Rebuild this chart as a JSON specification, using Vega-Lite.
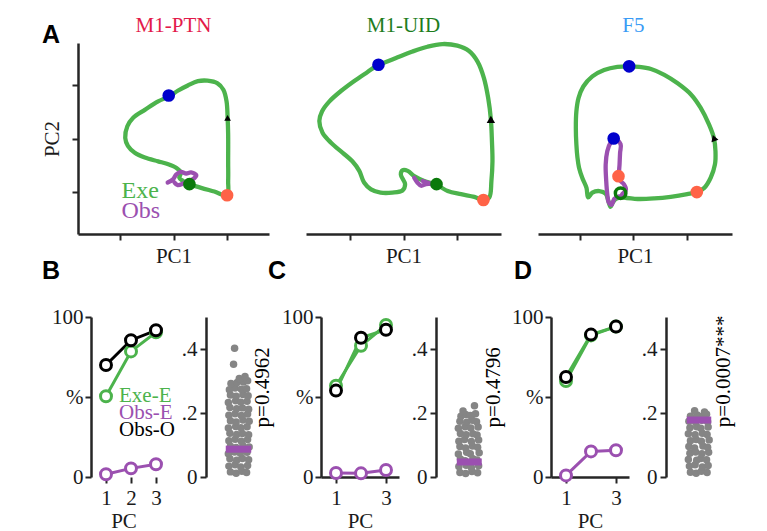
{
"$schema":"https://vega.github.io/schema/vega-lite/v6.json",
"background":"white",
"padding":{"left":41,"top":15,"right":5,"bottom":5},
"config":{
 "font":"Liberation Serif",
 "view":{"stroke":null},
 "axis":{"domainColor":"#262626","domainWidth":2.5,"tickColor":"#262626","tickWidth":2,"tickSize":6,"labelFontSize":21,"labelColor":"#1a1a1a","titleFontSize":21,"titleFontWeight":"normal","titleColor":"#1a1a1a","grid":false,"labelFont":"Liberation Serif","titleFont":"Liberation Serif"}
},
"datasets":{
 "traj":[
  {"panel":"A1","series":"Exe","i":0,"x":0.30,"y":-0.86},{"panel":"A1","series":"Exe","i":1,"x":0.52,"y":-0.93},{"panel":"A1","series":"Exe","i":2,"x":0.77,"y":-1.00},{"panel":"A1","series":"Exe","i":3,"x":1.01,"y":-1.07},{"panel":"A1","series":"Exe","i":4,"x":1.03,"y":-0.80},{"panel":"A1","series":"Exe","i":5,"x":1.03,"y":-0.43},{"panel":"A1","series":"Exe","i":6,"x":1.03,"y":0.08},{"panel":"A1","series":"Exe","i":7,"x":1.02,"y":0.39},{"panel":"A1","series":"Exe","i":8,"x":1.00,"y":0.70},{"panel":"A1","series":"Exe","i":9,"x":0.94,"y":0.92},{"panel":"A1","series":"Exe","i":10,"x":0.83,"y":1.04},{"panel":"A1","series":"Exe","i":11,"x":0.64,"y":1.09},{"panel":"A1","series":"Exe","i":12,"x":0.46,"y":1.08},{"panel":"A1","series":"Exe","i":13,"x":0.27,"y":1.00},{"panel":"A1","series":"Exe","i":14,"x":0.08,"y":0.90},{"panel":"A1","series":"Exe","i":15,"x":-0.09,"y":0.79},{"panel":"A1","series":"Exe","i":16,"x":-0.29,"y":0.70},{"panel":"A1","series":"Exe","i":17,"x":-0.54,"y":0.54},{"panel":"A1","series":"Exe","i":18,"x":-0.76,"y":0.39},{"panel":"A1","series":"Exe","i":19,"x":-0.87,"y":0.23},{"panel":"A1","series":"Exe","i":20,"x":-0.91,"y":0.01},{"panel":"A1","series":"Exe","i":21,"x":-0.86,"y":-0.14},{"panel":"A1","series":"Exe","i":22,"x":-0.73,"y":-0.27},{"panel":"A1","series":"Exe","i":23,"x":-0.54,"y":-0.36},{"panel":"A1","series":"Exe","i":24,"x":-0.29,"y":-0.43},{"panel":"A1","series":"Exe","i":25,"x":-0.11,"y":-0.48},{"panel":"A1","series":"Exe","i":26,"x":0.05,"y":-0.55},{"panel":"A1","series":"Exe","i":27,"x":0.14,"y":-0.64},{"panel":"A1","series":"Exe","i":28,"x":0.11,"y":-0.74},{"panel":"A1","series":"Exe","i":29,"x":0.18,"y":-0.80},{"panel":"A1","series":"Exe","i":30,"x":0.30,"y":-0.86},
  {"panel":"A1","series":"Obs","i":0,"x":-0.11,"y":-0.83},{"panel":"A1","series":"Obs","i":1,"x":-0.01,"y":-0.77},{"panel":"A1","series":"Obs","i":2,"x":0.05,"y":-0.68},{"panel":"A1","series":"Obs","i":3,"x":0.14,"y":-0.63},{"panel":"A1","series":"Obs","i":4,"x":0.24,"y":-0.66},{"panel":"A1","series":"Obs","i":5,"x":0.33,"y":-0.64},{"panel":"A1","series":"Obs","i":6,"x":0.43,"y":-0.69},{"panel":"A1","series":"Obs","i":7,"x":0.36,"y":-0.77},{"panel":"A1","series":"Obs","i":8,"x":0.27,"y":-0.80},{"panel":"A1","series":"Obs","i":9,"x":0.18,"y":-0.85},{"panel":"A1","series":"Obs","i":10,"x":0.08,"y":-0.88},{"panel":"A1","series":"Obs","i":11,"x":0.02,"y":-0.83},
  {"panel":"A2","series":"Exe","i":0,"x":0.62,"y":-0.86},{"panel":"A2","series":"Exe","i":1,"x":0.83,"y":-0.99},{"panel":"A2","series":"Exe","i":2,"x":1.08,"y":-1.05},{"panel":"A2","series":"Exe","i":3,"x":1.33,"y":-1.10},{"panel":"A2","series":"Exe","i":4,"x":1.50,"y":-1.16},{"panel":"A2","series":"Exe","i":5,"x":1.61,"y":-1.11},{"panel":"A2","series":"Exe","i":6,"x":1.65,"y":-0.80},{"panel":"A2","series":"Exe","i":7,"x":1.67,"y":-0.43},{"panel":"A2","series":"Exe","i":8,"x":1.66,"y":-0.05},{"panel":"A2","series":"Exe","i":9,"x":1.64,"y":0.36},{"panel":"A2","series":"Exe","i":10,"x":1.59,"y":0.76},{"panel":"A2","series":"Exe","i":11,"x":1.51,"y":1.14},{"panel":"A2","series":"Exe","i":12,"x":1.39,"y":1.45},{"panel":"A2","series":"Exe","i":13,"x":1.23,"y":1.65},{"panel":"A2","series":"Exe","i":14,"x":1.01,"y":1.75},{"panel":"A2","series":"Exe","i":15,"x":0.73,"y":1.78},{"panel":"A2","series":"Exe","i":16,"x":0.45,"y":1.73},{"panel":"A2","series":"Exe","i":17,"x":0.17,"y":1.64},{"panel":"A2","series":"Exe","i":18,"x":-0.11,"y":1.53},{"panel":"A2","series":"Exe","i":19,"x":-0.33,"y":1.44},{"panel":"A2","series":"Exe","i":20,"x":-0.47,"y":1.39},{"panel":"A2","series":"Exe","i":21,"x":-0.68,"y":1.25},{"panel":"A2","series":"Exe","i":22,"x":-0.93,"y":1.08},{"panel":"A2","series":"Exe","i":23,"x":-1.18,"y":0.89},{"panel":"A2","series":"Exe","i":24,"x":-1.39,"y":0.70},{"panel":"A2","series":"Exe","i":25,"x":-1.53,"y":0.51},{"panel":"A2","series":"Exe","i":26,"x":-1.58,"y":0.33},{"panel":"A2","series":"Exe","i":27,"x":-1.52,"y":0.11},{"panel":"A2","series":"Exe","i":28,"x":-1.36,"y":-0.08},{"panel":"A2","series":"Exe","i":29,"x":-1.14,"y":-0.27},{"panel":"A2","series":"Exe","i":30,"x":-0.96,"y":-0.43},{"panel":"A2","series":"Exe","i":31,"x":-0.83,"y":-0.61},{"panel":"A2","series":"Exe","i":32,"x":-0.74,"y":-0.83},{"panel":"A2","series":"Exe","i":33,"x":-0.61,"y":-0.96},{"panel":"A2","series":"Exe","i":34,"x":-0.43,"y":-1.02},{"panel":"A2","series":"Exe","i":35,"x":-0.21,"y":-1.02},{"panel":"A2","series":"Exe","i":36,"x":-0.02,"y":-0.98},{"panel":"A2","series":"Exe","i":37,"x":0.03,"y":-0.86},{"panel":"A2","series":"Exe","i":38,"x":-0.05,"y":-0.68},{"panel":"A2","series":"Exe","i":39,"x":-0.02,"y":-0.60},{"panel":"A2","series":"Exe","i":40,"x":0.08,"y":-0.61},{"panel":"A2","series":"Exe","i":41,"x":0.20,"y":-0.71},{"panel":"A2","series":"Exe","i":42,"x":0.39,"y":-0.80},{"panel":"A2","series":"Exe","i":43,"x":0.62,"y":-0.86},
  {"panel":"A2","series":"Obs","i":0,"x":0.20,"y":-0.74},{"panel":"A2","series":"Obs","i":1,"x":0.26,"y":-0.83},{"panel":"A2","series":"Obs","i":2,"x":0.33,"y":-0.89},{"panel":"A2","series":"Obs","i":3,"x":0.42,"y":-0.86},{"panel":"A2","series":"Obs","i":4,"x":0.51,"y":-0.85},{"panel":"A2","series":"Obs","i":5,"x":0.58,"y":-0.88},{"panel":"A2","series":"Obs","i":6,"x":0.45,"y":-0.83},{"panel":"A2","series":"Obs","i":7,"x":0.36,"y":-0.80},
  {"panel":"A3","series":"Exe","i":0,"x":-0.21,"y":-1.11},{"panel":"A3","series":"Exe","i":1,"x":0.08,"y":-1.14},{"panel":"A3","series":"Exe","i":2,"x":0.39,"y":-1.13},{"panel":"A3","series":"Exe","i":3,"x":0.70,"y":-1.10},{"panel":"A3","series":"Exe","i":4,"x":1.01,"y":-1.05},{"panel":"A3","series":"Exe","i":5,"x":1.19,"y":-1.01},{"panel":"A3","series":"Exe","i":6,"x":1.33,"y":-0.93},{"panel":"A3","series":"Exe","i":7,"x":1.45,"y":-0.74},{"panel":"A3","series":"Exe","i":8,"x":1.53,"y":-0.49},{"panel":"A3","series":"Exe","i":9,"x":1.54,"y":-0.24},{"panel":"A3","series":"Exe","i":10,"x":1.51,"y":0.01},{"panel":"A3","series":"Exe","i":11,"x":1.42,"y":0.26},{"panel":"A3","series":"Exe","i":12,"x":1.26,"y":0.58},{"panel":"A3","series":"Exe","i":13,"x":1.08,"y":0.83},{"panel":"A3","series":"Exe","i":14,"x":0.83,"y":1.04},{"panel":"A3","series":"Exe","i":15,"x":0.58,"y":1.20},{"panel":"A3","series":"Exe","i":16,"x":0.33,"y":1.31},{"panel":"A3","series":"Exe","i":17,"x":0.11,"y":1.35},{"panel":"A3","series":"Exe","i":18,"x":-0.08,"y":1.36},{"panel":"A3","series":"Exe","i":19,"x":-0.30,"y":1.35},{"panel":"A3","series":"Exe","i":20,"x":-0.55,"y":1.29},{"panel":"A3","series":"Exe","i":21,"x":-0.77,"y":1.17},{"panel":"A3","series":"Exe","i":22,"x":-0.94,"y":0.98},{"panel":"A3","series":"Exe","i":23,"x":-1.03,"y":0.76},{"panel":"A3","series":"Exe","i":24,"x":-1.07,"y":0.51},{"panel":"A3","series":"Exe","i":25,"x":-1.08,"y":0.20},{"panel":"A3","series":"Exe","i":26,"x":-1.07,"y":-0.11},{"panel":"A3","series":"Exe","i":27,"x":-1.05,"y":-0.36},{"panel":"A3","series":"Exe","i":28,"x":-1.02,"y":-0.55},{"panel":"A3","series":"Exe","i":29,"x":-0.96,"y":-0.74},{"panel":"A3","series":"Exe","i":30,"x":-0.88,"y":-0.93},{"panel":"A3","series":"Exe","i":31,"x":-0.85,"y":-1.11},{"panel":"A3","series":"Exe","i":32,"x":-0.77,"y":-1.02},{"panel":"A3","series":"Exe","i":33,"x":-0.64,"y":-0.99},{"panel":"A3","series":"Exe","i":34,"x":-0.52,"y":-1.04},{"panel":"A3","series":"Exe","i":35,"x":-0.47,"y":-1.18},{"panel":"A3","series":"Exe","i":36,"x":-0.43,"y":-1.29},{"panel":"A3","series":"Exe","i":37,"x":-0.39,"y":-1.21},{"panel":"A3","series":"Exe","i":38,"x":-0.33,"y":-1.14},{"panel":"A3","series":"Exe","i":39,"x":-0.21,"y":-1.11},
  {"panel":"A3","series":"Obs","i":0,"x":-0.21,"y":-1.05},{"panel":"A3","series":"Obs","i":1,"x":-0.14,"y":-0.96},{"panel":"A3","series":"Obs","i":2,"x":-0.18,"y":-0.86},{"panel":"A3","series":"Obs","i":3,"x":-0.24,"y":-0.80},{"panel":"A3","series":"Obs","i":4,"x":-0.27,"y":-0.69},{"panel":"A3","series":"Obs","i":5,"x":-0.26,"y":-0.49},{"panel":"A3","series":"Obs","i":6,"x":-0.25,"y":-0.27},{"panel":"A3","series":"Obs","i":7,"x":-0.24,"y":-0.11},{"panel":"A3","series":"Obs","i":8,"x":-0.35,"y":0.0},{"panel":"A3","series":"Obs","i":9,"x":-0.43,"y":-0.08},{"panel":"A3","series":"Obs","i":10,"x":-0.49,"y":-0.24},{"panel":"A3","series":"Obs","i":11,"x":-0.52,"y":-0.49},{"panel":"A3","series":"Obs","i":12,"x":-0.51,"y":-0.80},{"panel":"A3","series":"Obs","i":13,"x":-0.49,"y":-1.05},{"panel":"A3","series":"Obs","i":14,"x":-0.46,"y":-1.21},{"panel":"A3","series":"Obs","i":15,"x":-0.41,"y":-1.25},{"panel":"A3","series":"Obs","i":16,"x":-0.36,"y":-1.14},{"panel":"A3","series":"Obs","i":17,"x":-0.30,"y":-1.10},{"panel":"A3","series":"Obs","i":18,"x":-0.21,"y":-1.08}
 ],
 "events":[
  {"panel":"A1","series":"Exe","ev":"start","x":0.30,"y":-0.86},{"panel":"A1","series":"Exe","ev":"go","x":1.01,"y":-1.07},{"panel":"A1","series":"Exe","ev":"contact","x":-0.09,"y":0.81},
  {"panel":"A2","series":"Exe","ev":"start","x":0.62,"y":-0.86},{"panel":"A2","series":"Exe","ev":"go","x":1.50,"y":-1.16},{"panel":"A2","series":"Exe","ev":"contact","x":-0.47,"y":1.39},
  {"panel":"A3","series":"Exe","ev":"go","x":1.19,"y":-1.01},{"panel":"A3","series":"Exe","ev":"contact","x":-0.08,"y":1.36},
  {"panel":"A3","series":"Obs","ev":"go","x":-0.28,"y":-0.71},{"panel":"A3","series":"Obs","ev":"contact","x":-0.37,"y":0.0},{"panel":"A3","series":"Obs","ev":"start","x":-0.24,"y":-1.03}
 ],
 "arrows":[
  {"panel":"A1","x":1.02,"y":0.39},{"panel":"A2","x":1.64,"y":0.36},{"panel":"A3","x":1.51,"y":0.01}
 ],
 "titles":[
  {"panel":"A1","label":"M1-PTN","x":0,"y":2.12},{"panel":"A2","label":"M1-UID","x":0,"y":2.12},{"panel":"A3","label":"F5","x":0,"y":2.12}
 ],
 "notes":[
  {"panel":"A1","series":"Exe","label":"Exe","x":-0.98,"y":-0.99},{"panel":"A1","series":"Obs","label":"Obs","x":-0.98,"y":-1.36},
  {"panel":"B","series":"Exe-E","label":"Exe-E","x":1.52,"y":50.6},{"panel":"B","series":"Obs-E","label":"Obs-E","x":1.52,"y":40},{"panel":"B","series":"Obs-O","label":"Obs-O","x":1.52,"y":29.4}
 ],
 "letters":[
  {"panel":"A1","label":"A","x":-2.31,"y":1.96},{"panel":"B","label":"B","x":-1.2,"y":128.75},{"panel":"C","label":"C","x":-1.36,"y":128.75},{"panel":"D","label":"D","x":-0.72,"y":128.75}
 ],
 "pcs":[
  {"panel":"B","series":"Exe-E","pc":1,"v":50.5},{"panel":"B","series":"Exe-E","pc":2,"v":78.5},{"panel":"B","series":"Exe-E","pc":3,"v":90.5},
  {"panel":"B","series":"Obs-E","pc":1,"v":1.7},{"panel":"B","series":"Obs-E","pc":2,"v":5.4},{"panel":"B","series":"Obs-E","pc":3,"v":8},
  {"panel":"B","series":"Obs-O","pc":1,"v":70},{"panel":"B","series":"Obs-O","pc":2,"v":85.5},{"panel":"B","series":"Obs-O","pc":3,"v":91.7},
  {"panel":"C","series":"Exe-E","pc":1,"v":57},{"panel":"C","series":"Exe-E","pc":2,"v":82},{"panel":"C","series":"Exe-E","pc":3,"v":95},
  {"panel":"C","series":"Obs-E","pc":1,"v":2.5},{"panel":"C","series":"Obs-E","pc":2,"v":2.3},{"panel":"C","series":"Obs-E","pc":3,"v":4.4},
  {"panel":"C","series":"Obs-O","pc":1,"v":54},{"panel":"C","series":"Obs-O","pc":2,"v":87},{"panel":"C","series":"Obs-O","pc":3,"v":92},
  {"panel":"D","series":"Exe-E","pc":1,"v":60},{"panel":"D","series":"Exe-E","pc":2,"v":88.5},{"panel":"D","series":"Exe-E","pc":3,"v":94},
  {"panel":"D","series":"Obs-E","pc":1,"v":1},{"panel":"D","series":"Obs-E","pc":2,"v":16},{"panel":"D","series":"Obs-E","pc":3,"v":16.7},
  {"panel":"D","series":"Obs-O","pc":1,"v":62.5},{"panel":"D","series":"Obs-O","pc":2,"v":89},{"panel":"D","series":"Obs-O","pc":3,"v":94}
 ],
 "nulls":[
  {"panel":"B","x":0.47,"y":0.016},{"panel":"B","x":0.58,"y":0.012},{"panel":"B","x":0.69,"y":0.018},{"panel":"B","x":0.78,"y":0.014},
  {"panel":"B","x":0.44,"y":0.034},{"panel":"B","x":0.56,"y":0.038},{"panel":"B","x":0.67,"y":0.031},{"panel":"B","x":0.80,"y":0.036},
  {"panel":"B","x":0.46,"y":0.057},{"panel":"B","x":0.59,"y":0.052},{"panel":"B","x":0.70,"y":0.058},{"panel":"B","x":0.82,"y":0.054},
  {"panel":"B","x":0.43,"y":0.073},{"panel":"B","x":0.55,"y":0.078},{"panel":"B","x":0.66,"y":0.074},{"panel":"B","x":0.79,"y":0.077},
  {"panel":"B","x":0.47,"y":0.096},{"panel":"B","x":0.58,"y":0.092},{"panel":"B","x":0.71,"y":0.098},{"panel":"B","x":0.83,"y":0.094},
  {"panel":"B","x":0.44,"y":0.113},{"panel":"B","x":0.56,"y":0.118},{"panel":"B","x":0.68,"y":0.112},{"panel":"B","x":0.80,"y":0.117},
  {"panel":"B","x":0.46,"y":0.137},{"panel":"B","x":0.59,"y":0.133},{"panel":"B","x":0.70,"y":0.136},{"panel":"B","x":0.82,"y":0.132},
  {"panel":"B","x":0.43,"y":0.153},{"panel":"B","x":0.57,"y":0.158},{"panel":"B","x":0.67,"y":0.154},{"panel":"B","x":0.79,"y":0.157},
  {"panel":"B","x":0.47,"y":0.176},{"panel":"B","x":0.58,"y":0.172},{"panel":"B","x":0.71,"y":0.178},{"panel":"B","x":0.83,"y":0.174},
  {"panel":"B","x":0.44,"y":0.193},{"panel":"B","x":0.56,"y":0.198},{"panel":"B","x":0.68,"y":0.192},{"panel":"B","x":0.80,"y":0.197},
  {"panel":"B","x":0.46,"y":0.217},{"panel":"B","x":0.59,"y":0.213},{"panel":"B","x":0.70,"y":0.216},{"panel":"B","x":0.82,"y":0.212},
  {"panel":"B","x":0.43,"y":0.233},{"panel":"B","x":0.57,"y":0.238},{"panel":"B","x":0.67,"y":0.234},{"panel":"B","x":0.79,"y":0.237},
  {"panel":"B","x":0.47,"y":0.256},{"panel":"B","x":0.58,"y":0.252},{"panel":"B","x":0.71,"y":0.258},{"panel":"B","x":0.81,"y":0.254},
  {"panel":"B","x":0.45,"y":0.273},{"panel":"B","x":0.56,"y":0.278},{"panel":"B","x":0.68,"y":0.274},{"panel":"B","x":0.78,"y":0.276},
  {"panel":"B","x":0.48,"y":0.292},{"panel":"B","x":0.60,"y":0.295},{"panel":"B","x":0.72,"y":0.297},{"panel":"B","x":0.80,"y":0.301},
  {"panel":"B","x":0.64,"y":0.308},{"panel":"B","x":0.75,"y":0.314},{"panel":"B","x":0.53,"y":0.352},{"panel":"B","x":0.55,"y":0.402},
  {"panel":"C","x":0.46,"y":0.014},{"panel":"C","x":0.57,"y":0.011},{"panel":"C","x":0.69,"y":0.017},{"panel":"C","x":0.80,"y":0.013},
  {"panel":"C","x":0.44,"y":0.033},{"panel":"C","x":0.58,"y":0.037},{"panel":"C","x":0.68,"y":0.030},{"panel":"C","x":0.82,"y":0.035},
  {"panel":"C","x":0.47,"y":0.056},{"panel":"C","x":0.56,"y":0.051},{"panel":"C","x":0.71,"y":0.057},{"panel":"C","x":0.79,"y":0.053},
  {"panel":"C","x":0.43,"y":0.072},{"panel":"C","x":0.59,"y":0.077},{"panel":"C","x":0.66,"y":0.073},{"panel":"C","x":0.83,"y":0.076},
  {"panel":"C","x":0.46,"y":0.095},{"panel":"C","x":0.57,"y":0.091},{"panel":"C","x":0.70,"y":0.097},{"panel":"C","x":0.80,"y":0.093},
  {"panel":"C","x":0.44,"y":0.112},{"panel":"C","x":0.55,"y":0.117},{"panel":"C","x":0.68,"y":0.111},{"panel":"C","x":0.82,"y":0.116},
  {"panel":"C","x":0.47,"y":0.136},{"panel":"C","x":0.58,"y":0.132},{"panel":"C","x":0.71,"y":0.135},{"panel":"C","x":0.79,"y":0.131},
  {"panel":"C","x":0.43,"y":0.152},{"panel":"C","x":0.56,"y":0.157},{"panel":"C","x":0.67,"y":0.153},{"panel":"C","x":0.81,"y":0.156},
  {"panel":"C","x":0.46,"y":0.174},{"panel":"C","x":0.59,"y":0.171},{"panel":"C","x":0.70,"y":0.177},{"panel":"C","x":0.78,"y":0.173},
  {"panel":"C","x":0.48,"y":0.190},{"panel":"C","x":0.57,"y":0.195},{"panel":"C","x":0.66,"y":0.192},{"panel":"C","x":0.76,"y":0.198},
  {"panel":"C","x":0.52,"y":0.206},{"panel":"C","x":0.74,"y":0.223},
  {"panel":"D","x":0.47,"y":0.015},{"panel":"D","x":0.58,"y":0.012},{"panel":"D","x":0.68,"y":0.018},{"panel":"D","x":0.79,"y":0.014},
  {"panel":"D","x":0.45,"y":0.034},{"panel":"D","x":0.56,"y":0.038},{"panel":"D","x":0.70,"y":0.031},{"panel":"D","x":0.81,"y":0.036},
  {"panel":"D","x":0.43,"y":0.055},{"panel":"D","x":0.59,"y":0.052},{"panel":"D","x":0.67,"y":0.058},{"panel":"D","x":0.78,"y":0.054},
  {"panel":"D","x":0.46,"y":0.074},{"panel":"D","x":0.57,"y":0.078},{"panel":"D","x":0.69,"y":0.073},{"panel":"D","x":0.82,"y":0.077},
  {"panel":"D","x":0.44,"y":0.095},{"panel":"D","x":0.55,"y":0.091},{"panel":"D","x":0.71,"y":0.097},{"panel":"D","x":0.80,"y":0.093},
  {"panel":"D","x":0.47,"y":0.113},{"panel":"D","x":0.58,"y":0.117},{"panel":"D","x":0.68,"y":0.112},{"panel":"D","x":0.83,"y":0.116},
  {"panel":"D","x":0.43,"y":0.135},{"panel":"D","x":0.56,"y":0.132},{"panel":"D","x":0.70,"y":0.137},{"panel":"D","x":0.79,"y":0.133},
  {"panel":"D","x":0.46,"y":0.154},{"panel":"D","x":0.59,"y":0.157},{"panel":"D","x":0.67,"y":0.152},{"panel":"D","x":0.81,"y":0.156},
  {"panel":"D","x":0.44,"y":0.174},{"panel":"D","x":0.57,"y":0.171},{"panel":"D","x":0.69,"y":0.177},{"panel":"D","x":0.80,"y":0.173},
  {"panel":"D","x":0.47,"y":0.190},{"panel":"D","x":0.60,"y":0.194},{"panel":"D","x":0.71,"y":0.191},{"panel":"D","x":0.78,"y":0.196},
  {"panel":"D","x":0.55,"y":0.207},{"panel":"D","x":0.74,"y":0.203}
 ],
 "meds":[
  {"panel":"B","x1":0.38,"x2":0.87,"y":0.087},{"panel":"C","x1":0.40,"x2":0.88,"y":0.047},{"panel":"D","x1":0.40,"x2":0.87,"y":0.178}
 ],
 "pvals":[
  {"panel":"B","label":"p=0.4962","x":1.10,"y":0.28},{"panel":"C","label":"p=0.4796","x":1.12,"y":0.28},{"panel":"D","label":"p=0.0007***","x":1.12,"y":0.33}
 ]
},
"vconcat":[
 {"hconcat":[
  {"width":191,"height":191,
   "resolve":{"scale":{"color":"independent"}},
   "layer":[
    {"data":{"name":"traj"},"transform":[{"filter":"datum.panel==='A1'"}],
     "mark":{"type":"line","strokeWidth":4.3,"strokeCap":"round","strokeJoin":"round","interpolate":"catmull-rom"},
     "encoding":{
      "x":{"field":"x","type":"quantitative","scale":{"domain":[-1.8,1.8],"nice":false},"axis":{"values":[-1,0,1],"labels":false,"title":"PC1","titlePadding":4}},
      "y":{"field":"y","type":"quantitative","scale":{"domain":[-1.8,1.8],"nice":false},"axis":{"values":[-1,0,1],"labels":false,"title":"PC2","titlePadding":9}},
      "color":{"field":"series","type":"nominal","scale":{"domain":["Exe","Obs"],"range":["#4cb34c","#9b50b0"]},"legend":null},
      "order":{"field":"i","type":"quantitative"}}},
    {"data":{"name":"events"},"transform":[{"filter":"datum.panel==='A1'"}],
     "mark":{"type":"circle","size":160,"opacity":1},
     "encoding":{"x":{"field":"x","type":"quantitative"},"y":{"field":"y","type":"quantitative"},
      "fill":{"field":"ev","type":"nominal","scale":{"domain":["start","go","contact"],"range":["#0b7a0b","#ff6347","#0000cc"]},"legend":null}}},
    {"data":{"name":"arrows"},"transform":[{"filter":"datum.panel==='A1'"}],
     "mark":{"type":"point","shape":"triangle-up","filled":true,"color":"#000000","size":45,"opacity":1},
     "encoding":{"x":{"field":"x","type":"quantitative"},"y":{"field":"y","type":"quantitative"}}},
    {"data":{"name":"notes"},"transform":[{"filter":"datum.panel==='A1'"}],
     "mark":{"type":"text","align":"left","baseline":"middle","fontSize":24},
     "encoding":{"x":{"field":"x","type":"quantitative"},"y":{"field":"y","type":"quantitative"},"text":{"field":"label"},
      "color":{"field":"series","type":"nominal","scale":{"domain":["Exe","Obs"],"range":["#4cb34c","#9b50b0"]},"legend":null}}},
    {"data":{"name":"titles"},"transform":[{"filter":"datum.panel==='A1'"}],
     "mark":{"type":"text","align":"center","baseline":"middle","fontSize":21,"color":"#e31a4a"},
     "encoding":{"x":{"field":"x","type":"quantitative"},"y":{"field":"y","type":"quantitative"},"text":{"field":"label"}}},
    {"data":{"name":"letters"},"transform":[{"filter":"datum.panel==='A1'"}],
     "mark":{"type":"text","font":"Liberation Sans","fontWeight":"bold","fontSize":25,"color":"#000000","align":"center","baseline":"middle"},
     "encoding":{"x":{"field":"x","type":"quantitative"},"y":{"field":"y","type":"quantitative"},"text":{"field":"label"}}}
   ]},
  {"width":195,"height":191,
   "layer":[
    {"data":{"name":"traj"},"transform":[{"filter":"datum.panel==='A2'"}],
     "mark":{"type":"line","strokeWidth":4.3,"strokeCap":"round","strokeJoin":"round","interpolate":"catmull-rom"},
     "encoding":{
      "x":{"field":"x","type":"quantitative","scale":{"domain":[-1.83,1.83],"nice":false},"axis":{"values":[-1,0,1],"labels":false,"title":"PC1","titlePadding":4}},
      "y":{"field":"y","type":"quantitative","scale":{"domain":[-1.8,1.8],"nice":false},"axis":null},
      "color":{"field":"series","type":"nominal","scale":{"domain":["Exe","Obs"],"range":["#4cb34c","#9b50b0"]},"legend":null},
      "order":{"field":"i","type":"quantitative"}}},
    {"data":{"name":"events"},"transform":[{"filter":"datum.panel==='A2'"}],
     "mark":{"type":"circle","size":160,"opacity":1},
     "encoding":{"x":{"field":"x","type":"quantitative"},"y":{"field":"y","type":"quantitative"},
      "fill":{"field":"ev","type":"nominal","scale":{"domain":["start","go","contact"],"range":["#0b7a0b","#ff6347","#0000cc"]},"legend":null}}},
    {"data":{"name":"arrows"},"transform":[{"filter":"datum.panel==='A2'"}],
     "mark":{"type":"point","shape":"triangle-up","filled":true,"color":"#000000","size":70,"opacity":1},
     "encoding":{"x":{"field":"x","type":"quantitative"},"y":{"field":"y","type":"quantitative"}}},
    {"data":{"name":"titles"},"transform":[{"filter":"datum.panel==='A2'"}],
     "mark":{"type":"text","align":"center","baseline":"middle","fontSize":21,"color":"#1e7d1e"},
     "encoding":{"x":{"field":"x","type":"quantitative"},"y":{"field":"y","type":"quantitative"},"text":{"field":"label"}}}
   ]},
  {"width":194,"height":191,
   "layer":[
    {"data":{"name":"traj"},"transform":[{"filter":"datum.panel==='A3'"}],
     "mark":{"type":"line","strokeWidth":4.3,"strokeCap":"round","strokeJoin":"round","interpolate":"catmull-rom"},
     "encoding":{
      "x":{"field":"x","type":"quantitative","scale":{"domain":[-1.79,1.85],"nice":false},"axis":{"values":[-1,0,1],"labels":false,"title":"PC1","titlePadding":4}},
      "y":{"field":"y","type":"quantitative","scale":{"domain":[-1.8,1.8],"nice":false},"axis":null},
      "color":{"field":"series","type":"nominal","scale":{"domain":["Exe","Obs"],"range":["#4cb34c","#9b50b0"]},"legend":null},
      "order":{"field":"i","type":"quantitative"}}},
    {"data":{"name":"events"},"transform":[{"filter":"datum.panel==='A3' && !(datum.series==='Obs' && datum.ev==='start')"}],
     "mark":{"type":"circle","size":160,"opacity":1},
     "encoding":{"x":{"field":"x","type":"quantitative"},"y":{"field":"y","type":"quantitative"},
      "fill":{"field":"ev","type":"nominal","scale":{"domain":["start","go","contact"],"range":["#0b7a0b","#ff6347","#0000cc"]},"legend":null}}},
    {"data":{"name":"events"},"transform":[{"filter":"datum.panel==='A3' && datum.series==='Obs' && datum.ev==='start'"}],
     "mark":{"type":"point","shape":"circle","filled":false,"color":"#0b7a0b","strokeWidth":3.5,"size":110,"opacity":1},
     "encoding":{"x":{"field":"x","type":"quantitative"},"y":{"field":"y","type":"quantitative"}}},
    {"data":{"name":"arrows"},"transform":[{"filter":"datum.panel==='A3'"}],
     "mark":{"type":"point","shape":"triangle-up","filled":true,"color":"#000000","size":55,"opacity":1,"angle":340},
     "encoding":{"x":{"field":"x","type":"quantitative"},"y":{"field":"y","type":"quantitative"}}},
    {"data":{"name":"titles"},"transform":[{"filter":"datum.panel==='A3'"}],
     "mark":{"type":"text","align":"center","baseline":"middle","fontSize":21,"color":"#3a9bf5"},
     "encoding":{"x":{"field":"x","type":"quantitative"},"y":{"field":"y","type":"quantitative"},"text":{"field":"label"}}}
   ]}
 ],"spacing":37,"bounds":"flush"},
 {"hconcat":[
   {"width":91,"height":160,
    "resolve":{"scale":{"color":"independent"}},
    "layer":[
     {"data":{"name":"pcs"},"transform":[{"filter":"datum.panel==='B'"}],
      "mark":{"type":"line","strokeWidth":3},
      "encoding":{
       "x":{"field":"pc","type":"quantitative","scale":{"domain":[-0.12,3.52],"nice":false,"zero":false},"axis":{"values":[1,2,3],"title":"PC","labelPadding":4,"titlePadding":2,"domain":false}},
       "y":{"field":"v","type":"quantitative","scale":{"domain":[0,100],"nice":false},"axis":{"values":[0,25,50,75,100],"title":null,"offset":-13,"labelPadding":2,"labelExpr":"datum.value==100?'100':datum.value==50?'%':datum.value==0?'0':''"}},
       "color":{"field":"series","type":"nominal","scale":{"domain":["Exe-E","Obs-E","Obs-O"],"range":["#4cb34c","#9b50b0","#000000"]},"legend":null}}},
     {"mark":{"type":"rule","strokeWidth":2.5,"color":"#262626"},
      "encoding":{"x":{"datum":0.4,"type":"quantitative"},"x2":{"datum":3.52},"y":{"datum":0,"type":"quantitative"}}},
     {"data":{"name":"pcs"},"transform":[{"filter":"datum.panel==='B'"}],
      "mark":{"type":"point","shape":"circle","fill":"white","size":120,"strokeWidth":3,"opacity":1,"fillOpacity":1},
      "encoding":{"x":{"field":"pc","type":"quantitative"},"y":{"field":"v","type":"quantitative"},
       "stroke":{"field":"series","type":"nominal","scale":{"domain":["Exe-E","Obs-E","Obs-O"],"range":["#4cb34c","#9b50b0","#000000"]},"legend":null}}},
     {"data":{"name":"notes"},"transform":[{"filter":"datum.panel==='B'"}],
      "mark":{"type":"text","align":"left","baseline":"middle","fontSize":21},
      "encoding":{"x":{"field":"x","type":"quantitative"},"y":{"field":"y","type":"quantitative"},"text":{"field":"label"},
       "color":{"field":"series","type":"nominal","scale":{"domain":["Exe-E","Obs-E","Obs-O"],"range":["#4cb34c","#9b50b0","#000000"]},"legend":null}}},
     {"data":{"name":"letters"},"transform":[{"filter":"datum.panel==='B'"}],
      "mark":{"type":"text","font":"Liberation Sans","fontWeight":"bold","fontSize":25,"color":"#000000","align":"center","baseline":"middle"},
      "encoding":{"x":{"field":"x","type":"quantitative"},"y":{"field":"y","type":"quantitative"},"text":{"field":"label"}}}
    ]},
   {"width":78,"height":160,
    "layer":[
     {"data":{"name":"nulls"},"transform":[{"filter":"datum.panel==='B'"}],
      "mark":{"type":"circle","size":56,"color":"#858585","opacity":1},
      "encoding":{"x":{"field":"x","type":"quantitative","scale":{"domain":[0,1.5],"nice":false,"zero":false},"axis":null},
       "y":{"field":"y","type":"quantitative","scale":{"domain":[0,0.5],"nice":false},"axis":{"values":[0,0.1,0.2,0.3,0.4,0.5],"title":null,"labelPadding":3,"labelExpr":"datum.value==0?'0':abs(datum.value-0.2)<0.001?'.2':abs(datum.value-0.4)<0.001?'.4':''"}}}},
     {"data":{"name":"meds"},"transform":[{"filter":"datum.panel==='B'"}],
      "mark":{"type":"rule","strokeWidth":7,"color":"#9b50b0","strokeCap":"butt"},
      "encoding":{"x":{"field":"x1","type":"quantitative"},"x2":{"field":"x2"},"y":{"field":"y","type":"quantitative"}}},
     {"data":{"name":"pvals"},"transform":[{"filter":"datum.panel==='B'"}],
      "mark":{"type":"text","angle":270,"fontSize":21,"align":"center","baseline":"middle","color":"#000000"},
      "encoding":{"x":{"field":"x","type":"quantitative"},"y":{"field":"y","type":"quantitative"},"text":{"field":"label"}}}
    ]},
   {"width":78,"height":160,
    "layer":[
     {"data":{"name":"pcs"},"transform":[{"filter":"datum.panel==='C'"}],
      "mark":{"type":"line","strokeWidth":3},
      "encoding":{
       "x":{"field":"pc","type":"quantitative","scale":{"domain":[0.4,3.52],"nice":false,"zero":false},"axis":{"values":[1,2,3],"title":"PC","labelPadding":4,"titlePadding":2}},
       "y":{"field":"v","type":"quantitative","scale":{"domain":[0,100],"nice":false},"axis":{"values":[0,25,50,75,100],"title":null,"labelPadding":2,"labelExpr":"datum.value==100?'100':datum.value==50?'%':datum.value==0?'0':''"}},
       "color":{"field":"series","type":"nominal","scale":{"domain":["Exe-E","Obs-E","Obs-O"],"range":["#4cb34c","#9b50b0","#000000"]},"legend":null}}},
     {"data":{"name":"pcs"},"transform":[{"filter":"datum.panel==='C'"}],
      "mark":{"type":"point","shape":"circle","fill":"white","size":120,"strokeWidth":3,"opacity":1,"fillOpacity":1},
      "encoding":{"x":{"field":"pc","type":"quantitative"},"y":{"field":"v","type":"quantitative"},
       "stroke":{"field":"series","type":"nominal","scale":{"domain":["Exe-E","Obs-E","Obs-O"],"range":["#4cb34c","#9b50b0","#000000"]},"legend":null}}},
     {"data":{"name":"letters"},"transform":[{"filter":"datum.panel==='C'"}],
      "mark":{"type":"text","font":"Liberation Sans","fontWeight":"bold","fontSize":25,"color":"#000000","align":"center","baseline":"middle"},
      "encoding":{"x":{"field":"x","type":"quantitative"},"y":{"field":"y","type":"quantitative"},"text":{"field":"label"}}}
    ]},
   {"width":78,"height":160,
    "layer":[
     {"data":{"name":"nulls"},"transform":[{"filter":"datum.panel==='C'"}],
      "mark":{"type":"circle","size":56,"color":"#858585","opacity":1},
      "encoding":{"x":{"field":"x","type":"quantitative","scale":{"domain":[0,1.5],"nice":false,"zero":false},"axis":null},
       "y":{"field":"y","type":"quantitative","scale":{"domain":[0,0.5],"nice":false},"axis":{"values":[0,0.1,0.2,0.3,0.4,0.5],"title":null,"labelPadding":3,"labelExpr":"datum.value==0?'0':abs(datum.value-0.2)<0.001?'.2':abs(datum.value-0.4)<0.001?'.4':''"}}}},
     {"data":{"name":"meds"},"transform":[{"filter":"datum.panel==='C'"}],
      "mark":{"type":"rule","strokeWidth":7,"color":"#9b50b0","strokeCap":"butt"},
      "encoding":{"x":{"field":"x1","type":"quantitative"},"x2":{"field":"x2"},"y":{"field":"y","type":"quantitative"}}},
     {"data":{"name":"pvals"},"transform":[{"filter":"datum.panel==='C'"}],
      "mark":{"type":"text","angle":270,"fontSize":21,"align":"center","baseline":"middle","color":"#000000"},
      "encoding":{"x":{"field":"x","type":"quantitative"},"y":{"field":"y","type":"quantitative"},"text":{"field":"label"}}}
    ]},
   {"width":78,"height":160,
    "layer":[
     {"data":{"name":"pcs"},"transform":[{"filter":"datum.panel==='D'"}],
      "mark":{"type":"line","strokeWidth":3},
      "encoding":{
       "x":{"field":"pc","type":"quantitative","scale":{"domain":[0.4,3.52],"nice":false,"zero":false},"axis":{"values":[1,2,3],"title":"PC","labelPadding":4,"titlePadding":2}},
       "y":{"field":"v","type":"quantitative","scale":{"domain":[0,100],"nice":false},"axis":{"values":[0,25,50,75,100],"title":null,"labelPadding":2,"labelExpr":"datum.value==100?'100':datum.value==50?'%':datum.value==0?'0':''"}},
       "color":{"field":"series","type":"nominal","scale":{"domain":["Exe-E","Obs-E","Obs-O"],"range":["#4cb34c","#9b50b0","#000000"]},"legend":null}}},
     {"data":{"name":"pcs"},"transform":[{"filter":"datum.panel==='D'"}],
      "mark":{"type":"point","shape":"circle","fill":"white","size":120,"strokeWidth":3,"opacity":1,"fillOpacity":1},
      "encoding":{"x":{"field":"pc","type":"quantitative"},"y":{"field":"v","type":"quantitative"},
       "stroke":{"field":"series","type":"nominal","scale":{"domain":["Exe-E","Obs-E","Obs-O"],"range":["#4cb34c","#9b50b0","#000000"]},"legend":null}}},
     {"data":{"name":"letters"},"transform":[{"filter":"datum.panel==='D'"}],
      "mark":{"type":"text","font":"Liberation Sans","fontWeight":"bold","fontSize":25,"color":"#000000","align":"center","baseline":"middle"},
      "encoding":{"x":{"field":"x","type":"quantitative"},"y":{"field":"y","type":"quantitative"},"text":{"field":"label"}}}
    ]},
   {"width":78,"height":160,
    "layer":[
     {"data":{"name":"nulls"},"transform":[{"filter":"datum.panel==='D'"}],
      "mark":{"type":"circle","size":56,"color":"#858585","opacity":1},
      "encoding":{"x":{"field":"x","type":"quantitative","scale":{"domain":[0,1.5],"nice":false,"zero":false},"axis":null},
       "y":{"field":"y","type":"quantitative","scale":{"domain":[0,0.5],"nice":false},"axis":{"values":[0,0.1,0.2,0.3,0.4,0.5],"title":null,"labelPadding":3,"labelExpr":"datum.value==0?'0':abs(datum.value-0.2)<0.001?'.2':abs(datum.value-0.4)<0.001?'.4':''"}}}},
     {"data":{"name":"meds"},"transform":[{"filter":"datum.panel==='D'"}],
      "mark":{"type":"rule","strokeWidth":7,"color":"#9b50b0","strokeCap":"butt"},
      "encoding":{"x":{"field":"x1","type":"quantitative"},"x2":{"field":"x2"},"y":{"field":"y","type":"quantitative"}}},
     {"data":{"name":"pvals"},"transform":[{"filter":"datum.panel==='D'"}],
      "mark":{"type":"text","angle":270,"fontSize":21,"align":"center","baseline":"middle","color":"#000000"},
      "encoding":{"x":{"field":"x","type":"quantitative"},"y":{"field":"y","type":"quantitative"},"text":{"field":"label"}}}
    ]}
 ],"spacing":37,"bounds":"flush"}
],
"spacing":-8
}
